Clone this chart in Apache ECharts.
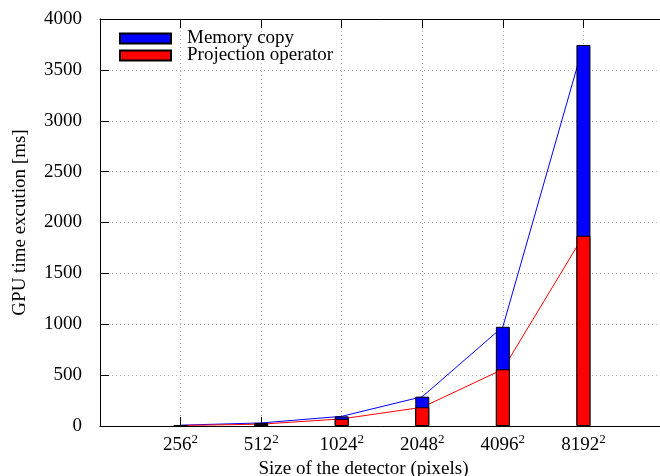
<!DOCTYPE html>
<html>
<head>
<meta charset="utf-8">
<script src="https://cdn.jsdelivr.net/npm/echarts@6/dist/echarts.min.js"></script>
<style>html,body{margin:0;padding:0;background:#fff;}#c{width:660px;height:476px;}</style>
</head>
<body>
<div id="c"></div>
<script>
const categories = ['256', '512', '1024', '2048', '4096', '8192'];
const projectionOperator = [5, 18, 70, 184, 557, 1870];
const memoryCopy = [3, 12, 25, 104, 418, 1875];
const yTicks = [0, 500, 1000, 1500, 2000, 2500, 3000, 3500, 4000];

const FONT = 'Liberation Serif';
const totals = projectionOperator.map((v, i) => v + memoryCopy[i]);
const pos = categories.map((c, i) => i + 1);

const chart = echarts.init(document.getElementById('c'), null, {renderer: 'canvas'});
const dotted = {show: true, lineStyle: {color: '#b0b0b0', type: [1, 3], width: 1}};
const option = {
  animation: false,
  backgroundColor: '#fff',
  grid: {left: 100, top: 19, bottom: 50, width: 564, show: false, containLabel: false, outerBoundsMode: 'none'},
  legend: {
    data: ['Memory copy', 'Projection operator'],
    orient: 'vertical', left: 114, top: 24,
    itemWidth: 51, itemHeight: 10, itemGap: -2,
    textStyle: {fontFamily: FONT, fontSize: 19, color: '#000', lineHeight: 16, padding: [0, 0, 0, 11]},
    icon: 'rect'
  },
  xAxis: [{
    type: 'value', min: 0, max: 7, interval: 1,
    axisLine: {show: true, lineStyle: {color: '#000', width: 1}},
    axisTick: {show: true, inside: true, length: 9, lineStyle: {color: '#000'}},
    splitLine: dotted,
    axisLabel: {
      margin: 7,
      formatter: v => (v >= 1 && v <= categories.length) ? '{n|' + categories[v - 1] + '}{s|2}' : '',
      rich: {
        n: {fontFamily: FONT, fontSize: 19, color: '#000', lineHeight: 22, verticalAlign: 'bottom'},
        s: {fontFamily: FONT, fontSize: 13, color: '#000', lineHeight: 13, verticalAlign: 'top'}
      }
    },
    name: 'Size of the detector (pixels)', nameLocation: 'middle', nameGap: 30,
    nameTextStyle: {fontFamily: FONT, fontSize: 19, color: '#000', padding: [0, 37, 0, 0]}
  }, {
    type: 'value', min: 0, max: 7, interval: 1, position: 'top',
    axisLine: {show: true, lineStyle: {color: '#000', width: 1}},
    axisTick: {show: true, inside: true, length: 9, lineStyle: {color: '#000'}},
    axisLabel: {show: false}, splitLine: {show: false}
  }],
  yAxis: [{
    type: 'value', min: yTicks[0], max: yTicks[yTicks.length - 1], interval: 500,
    axisLine: {show: true, lineStyle: {color: '#000', width: 1}},
    axisTick: {show: true, inside: true, length: 9, lineStyle: {color: '#000'}},
    splitLine: dotted,
    axisLabel: {fontFamily: FONT, fontSize: 19, color: '#000', margin: 18, formatter: v => String(v)},
    name: 'GPU time excution [ms]', nameLocation: 'middle', nameGap: 70, nameRotate: 90,
    nameTextStyle: {fontFamily: FONT, fontSize: 19, color: '#000'}
  }],
  series: [
    {
      name: 'Memory copy line', type: 'line', z: 1, symbol: 'none',
      data: pos.map((x, i) => [x, totals[i]]),
      lineStyle: {color: '#0000ff', width: 1}, itemStyle: {color: '#0000ff'}
    },
    {
      name: 'Projection operator line', type: 'line', z: 1, symbol: 'none',
      data: pos.map((x, i) => [x, projectionOperator[i]]),
      lineStyle: {color: '#ff0000', width: 1}, itemStyle: {color: '#ff0000'}
    },
    {
      name: 'Memory copy', type: 'bar', z: 3, barWidth: 14, barGap: '-100%',
      data: pos.map((x, i) => [x, totals[i]]),
      itemStyle: {color: '#0000ff', borderColor: '#000', borderWidth: 1}
    },
    {
      name: 'Projection operator', type: 'bar', z: 4, barWidth: 14, barGap: '-100%',
      data: pos.map((x, i) => [x, projectionOperator[i]]),
      itemStyle: {color: '#ff0000', borderColor: '#000', borderWidth: 1}
    }
  ]
};
chart.setOption(option);
</script>
</body>
</html>
